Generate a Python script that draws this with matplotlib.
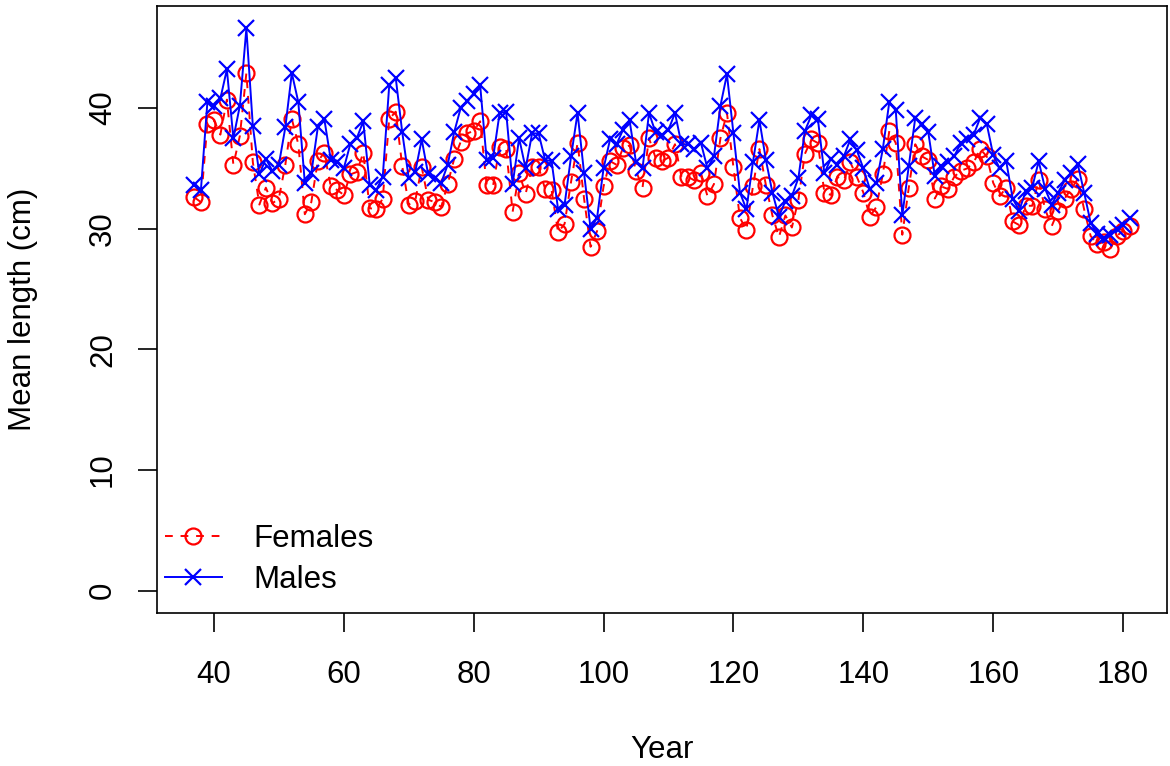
import matplotlib
matplotlib.use("Agg")
import matplotlib.pyplot as plt
import numpy as np

years = list(range(37, 182))
females = [32.6, 32.2, 38.7, 39.0, 37.8, 40.7, 35.3, 37.7, 42.9, 35.5,
           32.0, 33.4, 32.1, 32.5, 35.3, 39.1, 37.0, 31.2, 32.2, 35.6,
           36.3, 33.5, 33.2, 32.8, 34.5, 34.7, 36.3, 31.7, 31.6, 32.5,
           39.1, 39.7, 35.2, 32.0, 32.3, 35.1, 32.4, 32.2, 31.8, 33.7,
           35.8, 37.2, 37.9, 38.1, 38.9, 33.6, 33.6, 36.8, 36.6, 31.4,
           34.6, 32.9, 35.1, 35.1, 33.3, 33.2, 29.7, 30.4, 33.9, 37.1,
           32.5, 28.5, 29.8, 33.5, 35.6, 35.3, 36.7, 36.9, 34.8, 33.4,
           37.5, 35.9, 35.6, 35.9, 37.0, 34.3, 34.3, 34.0, 34.6, 32.7,
           33.7, 37.5, 39.6, 35.1, 30.9, 29.9, 33.5, 36.6, 33.6, 31.1,
           29.3, 31.1, 30.1, 32.4, 36.2, 37.4, 37.1, 33.0, 32.8, 34.3,
           34.0, 35.5, 34.3, 33.0, 31.0, 31.8, 34.5, 38.1, 37.1, 29.5,
           33.4, 37.0, 36.0, 35.7, 32.5, 33.5, 33.3, 34.3, 34.8, 35.0,
           35.5, 36.6, 36.0, 33.8, 32.7, 33.4, 30.6, 30.3, 31.9, 31.9,
           34.0, 31.6, 30.2, 31.5, 32.5, 33.3, 34.1, 31.6, 29.4, 28.7,
           28.9, 28.3, 29.4, 29.8, 30.2]
males = [33.6, 33.2, 40.5, 40.2, 40.8, 43.2, 37.5, 40.2, 46.6, 38.5,
         34.5, 35.8, 34.8, 35.3, 38.4, 42.9, 40.5, 33.8, 34.6, 38.4,
         39.1, 35.7, 35.5, 35.0, 37.0, 37.5, 38.9, 33.6, 33.2, 34.3,
         41.9, 42.5, 38.0, 34.2, 34.7, 37.4, 34.5, 34.2, 33.8, 35.3,
         38.0, 40.0, 40.6, 41.2, 41.9, 35.7, 35.9, 39.6, 39.7, 33.7,
         37.5, 35.0, 37.9, 37.9, 35.7, 35.6, 31.6, 32.0, 36.0, 39.6,
         34.6, 30.0, 30.9, 35.0, 37.4, 37.0, 38.2, 39.0, 35.5, 35.0,
         39.6, 38.0, 37.8, 38.2, 39.6, 37.0, 37.0, 36.6, 37.1, 35.0,
         36.0, 40.2, 42.8, 37.9, 33.0, 31.6, 35.5, 39.0, 35.7, 33.0,
         31.0, 32.3, 32.7, 34.2, 38.1, 39.4, 39.1, 34.6, 35.8, 35.3,
         36.0, 37.4, 36.5, 35.0, 33.3, 33.8, 36.6, 40.5, 39.8, 31.1,
         35.2, 39.2, 38.7, 38.0, 34.4, 35.2, 35.5, 36.0, 37.1, 37.4,
         37.8, 39.2, 38.7, 36.1, 35.0, 35.6, 32.5, 31.5, 33.1, 33.4,
         35.6, 33.3, 32.0, 33.0, 34.0, 34.6, 35.4, 33.0, 30.5, 29.6,
         29.2, 29.5, 30.0, 30.3, 30.9]
x_ticks = [40, 60, 80, 100, 120, 140, 160, 180]
y_ticks = [0, 10, 20, 30, 40]
series_labels = ["Females", "Males"]

plt.rcParams['font.family'] = ['Liberation Sans', 'DejaVu Sans']
FS = 22.5

fig = plt.figure(figsize=(11.7, 7.66), dpi=100)
ax = fig.add_axes([157/1170, 1-613/766, (1167-157)/1170, (613-6)/766])

lf, = ax.plot(years, females, color='red', linestyle=(0, (4, 4)), linewidth=1.4,
              marker='o', markersize=11.5, markerfacecolor='none',
              markeredgecolor='red', markeredgewidth=1.6)
lm, = ax.plot(years, males, color='blue', linestyle='-', linewidth=1.4,
              marker='x', markersize=11.5, markeredgecolor='blue',
              markeredgewidth=1.6)

xr = max(years) - min(years)
ax.set_xlim(min(years) - 0.04*xr, max(years) + 0.04*xr)
ymax = max(males)
ax.set_ylim(-0.04*ymax, ymax*1.04)

ax.set_xticks(x_ticks)
ax.set_yticks(y_ticks)
ax.set_xticklabels([str(t) for t in x_ticks], fontsize=FS)
ax.set_yticklabels([str(t) for t in y_ticks], fontsize=FS, rotation=90, va='center')
ax.tick_params(direction='out', length=14, width=1.2, color='black')
ax.tick_params(axis='x', pad=20)
ax.tick_params(axis='y', pad=14)
for s in ax.spines.values():
    s.set_linewidth(1.2)

ax.set_xlabel("Year", fontsize=FS, labelpad=32)
ax.set_ylabel("Mean length (cm)", fontsize=FS, labelpad=36)

leg = ax.legend([lf, lm], series_labels, loc='lower left', frameon=False,
                fontsize=FS, handlelength=1.82, handletextpad=1.0,
                borderaxespad=0.0, borderpad=0.0, labelspacing=0.33,
                bbox_to_anchor=(8/1010, (613-594.7)/607))

fig.savefig("out.png", dpi=100)
